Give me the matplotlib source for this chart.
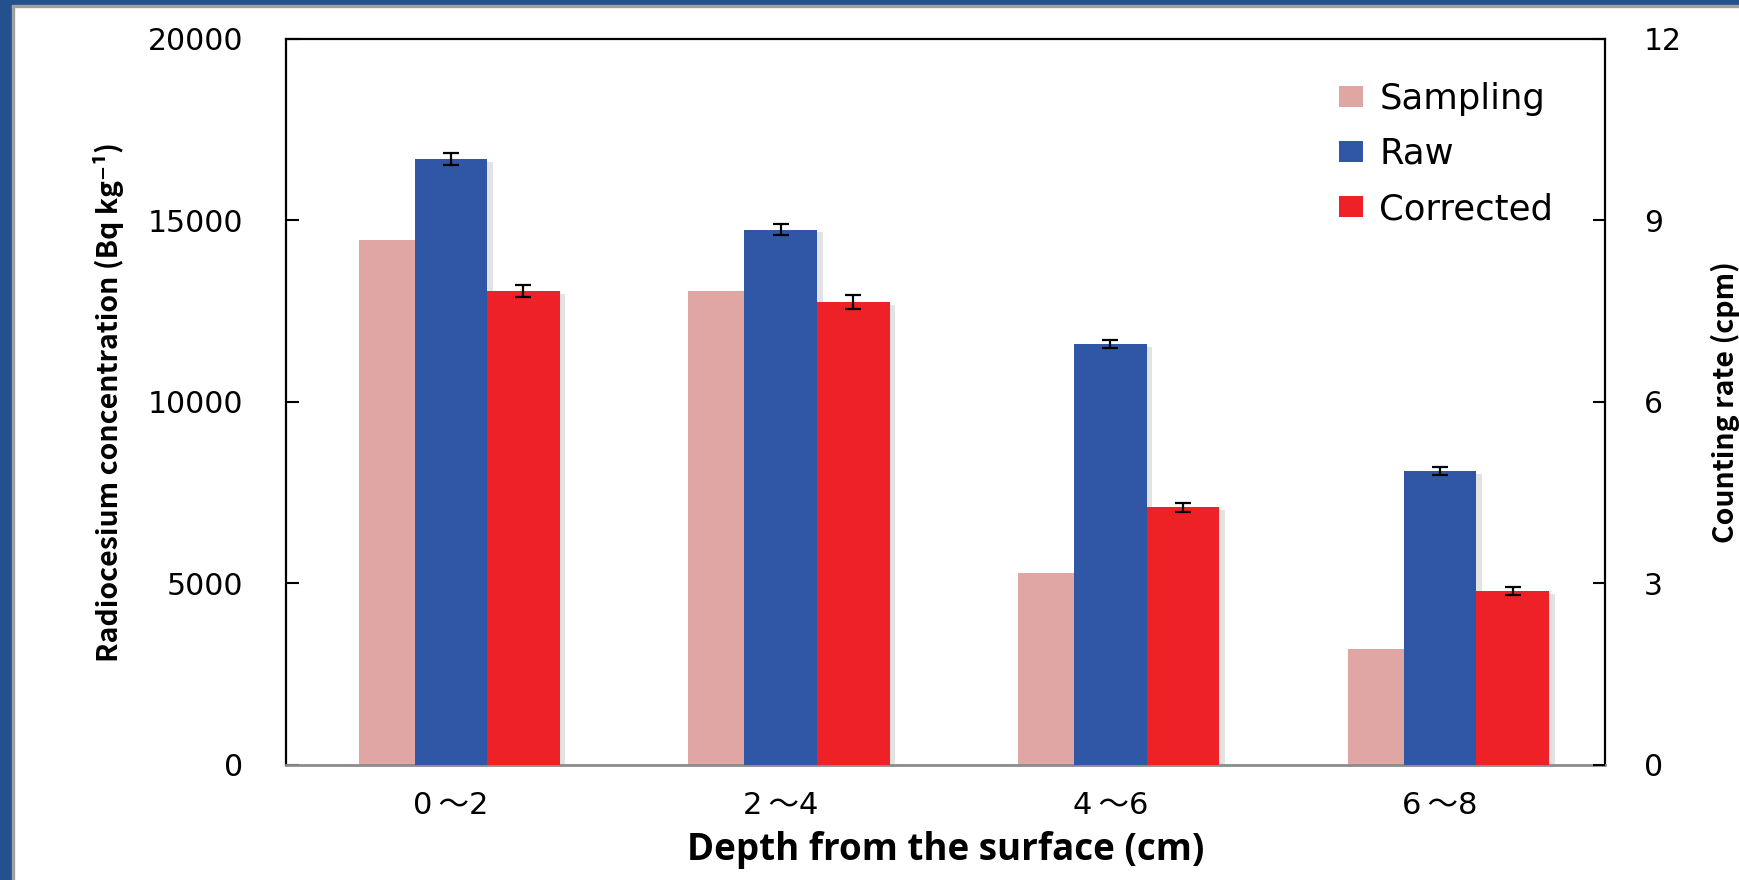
import numpy as np
import matplotlib.pyplot as plt
import matplotlib.patheffects as pe
from matplotlib.patches import Rectangle

# data (Bq/kg)
depths = ['0\u2009〜2', '2\u2009〜4', '4\u2009〜6', '6\u2009〜8']
sampling = [14450, 13050, 5300, 3200]
raw = [16700, 14750, 11600, 8100]
raw_err = [160, 160, 110, 110]
corrected = [13050, 12750, 7100, 4780]
corrected_err = [160, 190, 130, 110]

tick_font = ['DejaVu Sans', 'Noto Sans CJK JP']
label_font = ['Noto Sans CJK JP', 'DejaVu Sans']

fig = plt.figure(figsize=(17.39, 8.80), dpi=100)
ax = fig.add_axes([0.1645, 0.1307, 0.7585, 0.825])

x = np.arange(len(depths))
w = 0.22

b1 = ax.bar(x - w / 2 - 0.085, sampling, 0.17, color='#E0A6A4', label='Sampling', zorder=2)
b2 = ax.bar(x, raw, w, color='#3056A6', label='Raw', zorder=3)
b3 = ax.bar(x + w, corrected, w, color='#EE2226', label='Corrected', zorder=3)

ax.errorbar(x, raw, yerr=raw_err, fmt='none', ecolor='black', elinewidth=1.6,
            capsize=5.5, capthick=1.6, zorder=4)
ax.errorbar(x + w, corrected, yerr=corrected_err, fmt='none', ecolor='black', elinewidth=1.6,
            capsize=5.5, capthick=1.6, zorder=4)

ax.set_xlim(-0.5, 3.5)
ax.set_ylim(0, 20000)
ax.set_yticks([0, 5000, 10000, 15000, 20000])
ax.set_xticks(x)
ax.set_xticklabels(depths, family=tick_font, fontsize=22)
ax.tick_params(axis='x', length=0, pad=19)
ax.tick_params(axis='y', direction='in', length=9, width=1.5, pad=31, labelsize=21.5)
for t in ax.get_yticklabels():
    t.set_family(tick_font)

for s in ('left', 'top', 'right'):
    ax.spines[s].set_linewidth(1.6)
ax.spines['bottom'].set_color('#8c8c8c')
ax.spines['bottom'].set_linewidth(2)

ax.set_xlabel('Depth from the surface (cm)', fontsize=26.5, fontweight='bold',
              family=['Open Sans', 'DejaVu Sans'], labelpad=8)
ax.set_ylabel('Radiocesium concentration (Bq kg⁻¹)', fontsize=20.5, fontweight='bold',
              family=label_font, labelpad=17)

ax2 = ax.twinx()
ax2.set_ylim(0, 12)
ax2.set_yticks([0, 3, 6, 9, 12])
ax2.tick_params(axis='y', direction='in', length=9, width=1.5, pad=28, labelsize=21.5)
for t in ax2.get_yticklabels():
    t.set_family(tick_font)
for s in ax2.spines.values():
    s.set_visible(False)
ax2.set_ylabel('Counting rate (cpm)', fontsize=20.5, fontweight='bold', family=label_font, labelpad=21)

leg = ax.legend(loc='upper right', bbox_to_anchor=(0.985, 0.985), frameon=False,
                prop={'family': tick_font, 'size': 25.5}, handlelength=0.7, handleheight=0.55,
                handletextpad=0.45, labelspacing=0.6)

# soft drop shadow on bars (added after the legend so its keys stay flat)
shadow = [pe.SimplePatchShadow(offset=(4, -2), shadow_rgbFace='#909090', alpha=0.25), pe.Normal()]
for bars in (b1, b2, b3):
    for p in bars:
        p.set_path_effects(shadow)

# slide frame
fig.patches.append(Rectangle((0, 0), 12 / 1739, 1, transform=fig.transFigure,
                             color='#24508e', zorder=0))
fig.patches.append(Rectangle((12 / 1739, 0), 2 / 1739, 1 - 6 / 880, transform=fig.transFigure,
                             color='#a0a0a0', zorder=0))
fig.patches.append(Rectangle((0, 1 - 5 / 880), 1, 5 / 880, transform=fig.transFigure,
                             color='#24508e', zorder=0))
fig.patches.append(Rectangle((12 / 1739, 1 - 7 / 880), 1, 2 / 880, transform=fig.transFigure,
                             color='#a0a0a0', zorder=0))

fig.savefig('out.png', dpi=100)
